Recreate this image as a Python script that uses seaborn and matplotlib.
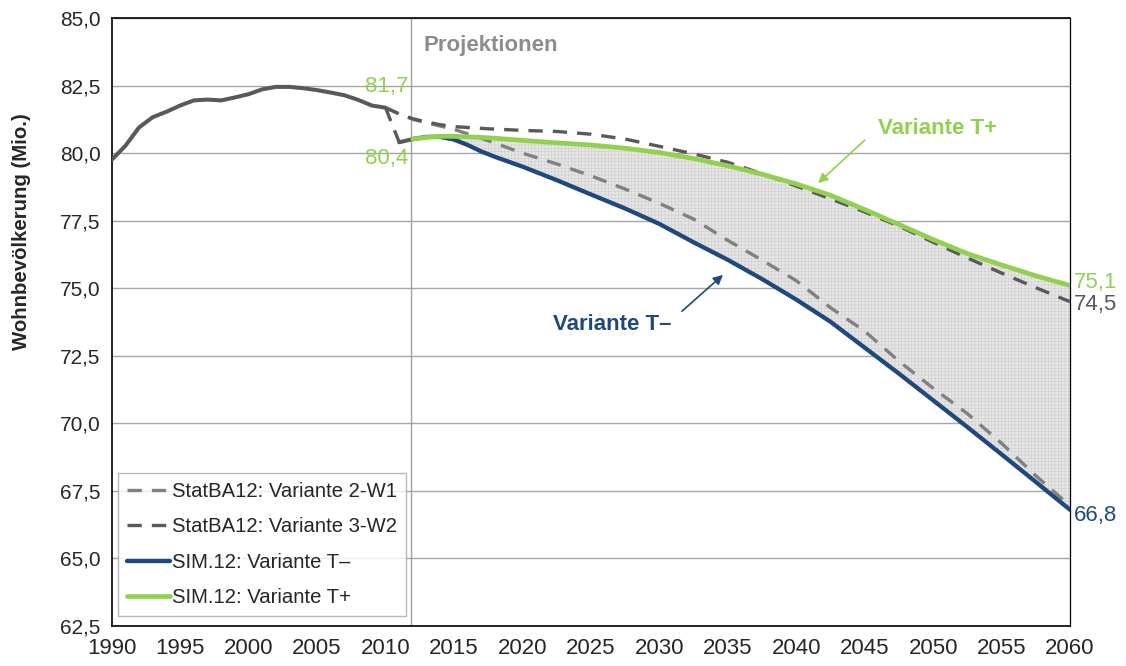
import numpy as np
import pandas as pd
import matplotlib
matplotlib.use('Agg')
from matplotlib import pyplot as plt
from matplotlib.ticker import FuncFormatter, MultipleLocator
import seaborn as sns

# Historische Wohnbevoelkerung (Mio.)
hist_years = list(range(1990, 2011))
hist_vals = [79.75, 80.27, 80.95, 81.33, 81.53, 81.76, 81.95, 81.98, 81.95, 82.06,
             82.18, 82.36, 82.45, 82.45, 82.40, 82.33, 82.24, 82.14, 81.97, 81.76, 81.68]

# Bruch durch Zensus 2011
break_years = [2010, 2011]
break_vals = [81.68, 80.4]
census_years = [2011, 2012]
census_vals = [80.4, 80.52]

# Projektionen
sim_years = [2012, 2013, 2014, 2015, 2016, 2017, 2018, 2020, 2022.5, 2025, 2027.5, 2030,
             2032.5, 2035, 2037.5, 2040, 2042.5, 2045, 2047.5, 2050, 2052.5, 2055, 2057.5, 2060]
t_minus = [80.52, 80.6, 80.6, 80.5, 80.3, 80.06, 79.86, 79.5, 79.0, 78.47, 77.95, 77.38,
           76.7, 76.05, 75.34, 74.58, 73.76, 72.8, 71.84, 70.85, 69.86, 68.85, 67.83, 66.8]
t_plus = [80.52, 80.58, 80.62, 80.62, 80.6, 80.58, 80.55, 80.47, 80.38, 80.3, 80.18, 80.02,
          79.8, 79.53, 79.22, 78.86, 78.44, 77.91, 77.36, 76.8, 76.28, 75.86, 75.46, 75.1]

stat_years = [2010, 2011, 2012, 2013, 2014, 2015, 2017.5, 2020, 2022.5, 2025, 2027.5, 2030,
              2032.5, 2035, 2037.5, 2040, 2042.5, 2045, 2047.5, 2050, 2052.5, 2055, 2057.5, 2060]
w1_vals = [81.68, 81.45, 81.25, 81.12, 81.0, 80.88, 80.46, 80.0, 79.6, 79.16, 78.67, 78.14,
           77.56, 76.77, 76.04, 75.28, 74.28, 73.41, 72.3, 71.3, 70.36, 69.26, 68.06, 66.95]
w2_vals = [81.68, 81.45, 81.27, 81.15, 81.05, 80.98, 80.9, 80.84, 80.8, 80.7, 80.52, 80.25,
           79.97, 79.66, 79.24, 78.78, 78.31, 77.82, 77.3, 76.7, 76.12, 75.56, 75.02, 74.5]

labels = ['StatBA12: Variante 2-W1', 'StatBA12: Variante 3-W2',
          'SIM.12: Variante T\u2013', 'SIM.12: Variante T+']

GREEN = '#92d050'
BLUE = '#1f497d'
DARK = '#595959'
LIGHT = '#808080'

sns.set_style('white')
plt.rcParams['font.family'] = ['Liberation Sans', 'DejaVu Sans']
plt.rcParams['hatch.linewidth'] = 0.4

fig = plt.figure(figsize=(11.26, 6.66), dpi=100)
ax = fig.add_axes([0.0992, 0.0601, 0.8511, 0.9129])

ax.set_xlim(1990, 2060)
ax.set_ylim(62.5, 85)
ax.yaxis.set_major_locator(MultipleLocator(2.5))
ax.yaxis.set_major_formatter(FuncFormatter(lambda v, _: f'{v:.1f}'.replace('.', ',')))
ax.xaxis.set_major_locator(MultipleLocator(5))
ax.xaxis.set_minor_locator(MultipleLocator(1))
ax.grid(axis='y', color='#a6a6a6', lw=1)
ax.set_axisbelow(True)

# schraffierter Korridor zwischen T+ und T-
ax.fill_between(sim_years, t_minus, t_plus, facecolor='#e6e6e6', hatch='+++++',
                edgecolor='#cdcdcd', lw=0, zorder=1)

ax.axvline(2011.85, color='#a0a0a0', lw=1, zorder=1.5)

dash = (0, (4.3, 3.0))
sns.lineplot(x=stat_years, y=w1_vals, ax=ax, color=LIGHT, lw=2.4, linestyle=dash, zorder=3)
sns.lineplot(x=stat_years, y=w2_vals, ax=ax, color=DARK, lw=2.4, linestyle=dash, zorder=3)
sns.lineplot(x=sim_years, y=t_minus, ax=ax, color=BLUE, lw=3.1, zorder=4)
sns.lineplot(x=sim_years, y=t_plus, ax=ax, color=GREEN, lw=3.4, zorder=5)
sns.lineplot(x=hist_years, y=hist_vals, ax=ax, color=DARK, lw=2.9, zorder=4)
sns.lineplot(x=break_years, y=break_vals, ax=ax, color=DARK, lw=2.4, linestyle=dash, zorder=4)
sns.lineplot(x=census_years, y=census_vals, ax=ax, color=DARK, lw=2.9, zorder=4)

for s in ax.spines.values():
    s.set_color('black')
    s.set_linewidth(1.2)
ax.spines['right'].set_linewidth(0.9)
ax.tick_params(axis='both', which='both', direction='out', color='#7f7f7f', width=1)
ax.tick_params(axis='x', which='major', length=4, labelsize=16, pad=5)
ax.tick_params(axis='x', which='minor', length=4)
ax.tick_params(axis='y', length=4, labelsize=15, pad=4)
ax.set_xlabel('')
ax.set_ylabel('')

fig.text(22 / 1126, 1 - 232 / 666, 'Wohnbevölkerung (Mio.)', rotation=90,
         ha='center', va='center', fontsize=14.7, fontweight='bold')

ax.text(2012.8, 84.0, 'Projektionen', color='#8c8c8c', fontsize=16, fontweight='bold',
        ha='left', va='center')

# Wertebeschriftungen
ax.text(2011.65, 82.46, '81,7', color=GREEN, fontsize=16, ha='right', va='center')
ax.text(2011.65, 79.8, '80,4', color=GREEN, fontsize=16, ha='right', va='center')
ax.text(2060.3, 75.2, '75,1', color=GREEN, fontsize=16, ha='left', va='center')
ax.text(2060.3, 74.4, '74,5', color=DARK, fontsize=16, ha='left', va='center')
ax.text(2060.3, 66.6, '66,8', color=BLUE, fontsize=16, ha='left', va='center')

ax.annotate('', xy=(2041.45, 78.82), xytext=(2045.15, 80.55),
            arrowprops=dict(arrowstyle='-|>', color=GREEN, lw=1.2, mutation_scale=14))
ax.text(2050.32, 80.9, 'Variante T+', color=GREEN, fontsize=16, fontweight='bold',
        ha='center', va='center')
ax.annotate('', xy=(2034.8, 75.56), xytext=(2031.5, 74.08),
            arrowprops=dict(arrowstyle='-|>', color=BLUE, lw=1.2, mutation_scale=14))
ax.text(2026.58, 73.65, 'Variante T\u2013', color=BLUE, fontsize=16, fontweight='bold',
        ha='center', va='center')

lines = ax.get_lines()
handles = [lines[1], lines[2], lines[3], lines[4]]
leg = ax.legend(handles, labels, loc='lower left', bbox_to_anchor=(0.0066, 0.0164),
                borderaxespad=0, fontsize=14.6, frameon=True, fancybox=False,
                edgecolor='#a6a6a6', labelspacing=0.8, handlelength=2.1,
                handletextpad=0.1, borderpad=0.45)
leg.get_frame().set_linewidth(1)

fig.savefig('out.png', dpi=100)
